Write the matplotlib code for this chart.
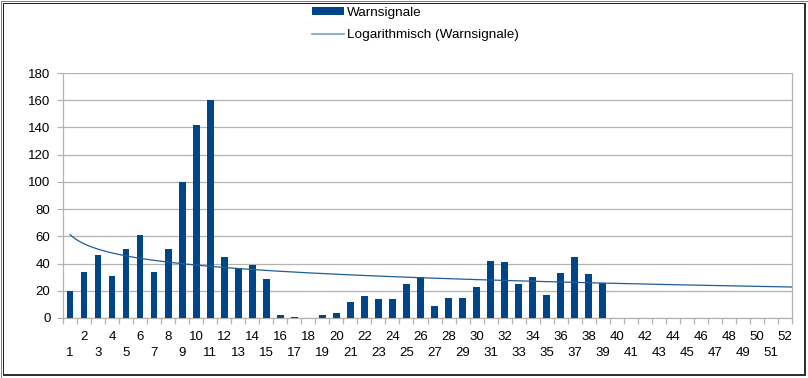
import numpy as np
import matplotlib
matplotlib.use("Agg")
import matplotlib.pyplot as plt
from matplotlib.patches import Rectangle, Patch
from matplotlib.lines import Line2D
from matplotlib.transforms import blended_transform_factory, offset_copy

plt.rcParams['font.family'] = ['Liberation Sans', 'DejaVu Sans']

weeks = list(range(1, 40))
values = [20, 34, 46, 31, 51, 61, 34, 51, 100, 142,
          160, 45, 37, 39, 29, 2, 1, 0, 2, 4,
          12, 16, 14, 14, 25, 30, 9, 15, 15, 23,
          42, 41, 25, 30, 17, 33, 45, 32, 26]
all_weeks = list(range(1, 53))
series_name = "Warnsignale"
trend_name = "Logarithmisch (Warnsignale)"
yticks = list(range(0, 181, 20))

W, H = 808, 378
DPI = 100
fig = plt.figure(figsize=(W / DPI, H / DPI), dpi=DPI)
fig.patch.set_facecolor('white')

left, right, top, bottom = 63, 792, 73, 318
ax = fig.add_axes([left / W, 1 - bottom / H, (right - left) / W, (bottom - top) / H])

bar_color = '#004586'
grid_color = '#b3b3b3'
fs = 9.5

ax.bar(weeks, values, width=0.48, color=bar_color, zorder=3)

b, a = np.polyfit(np.log(np.array(weeks, dtype=float)), np.array(values, dtype=float), 1)
xt = np.linspace(1, 52.5, 400)
ax.plot(xt, a + b * np.log(xt), color='#235d98', lw=0.9, zorder=4)

ax.set_xlim(0.5, 52.5)
ax.set_ylim(0, 180)
ax.set_yticks(yticks)
ax.set_yticklabels([str(v) for v in yticks], fontsize=fs)
ax.yaxis.grid(True, color=grid_color, lw=0.9, zorder=0)
ax.set_axisbelow(True)

ax.spines['top'].set_visible(False)
for s in ['left', 'bottom', 'right']:
    ax.spines[s].set_color(grid_color)
    ax.spines[s].set_linewidth(0.9)

ax.tick_params(axis='y', length=4, width=0.9, color=grid_color, pad=5)
boundaries = np.arange(0.5, 53.0, 1.0)
ax.set_xticks(boundaries)
ax.set_xticklabels([])
ax.tick_params(axis='x', length=4, width=0.9, color=grid_color, direction='out')

trans = blended_transform_factory(ax.transData, ax.transAxes)
for w in all_weeks:
    off = -18.5 if w % 2 == 0 else -34.7
    t = offset_copy(trans, fig=fig, x=0, y=off * 72 / DPI, units='points')
    ax.text(w, 0, str(w), transform=t, ha='center', va='center', fontsize=fs, color='#000000')

handles = [Patch(facecolor=bar_color, edgecolor='none'),
           Line2D([0], [0], color='#7a9cc7', lw=1.2)]
leg = fig.legend(handles, [series_name, trend_name], loc='upper left',
                 bbox_to_anchor=(312 / W, 1 - 7 / H), frameon=False,
                 fontsize=9.7, handlelength=2.35, handleheight=0.55,
                 handletextpad=0.25, labelspacing=0.75, borderpad=0, borderaxespad=0)

def px_rect(x0, y0, x1, y1, color, lw):
    fig.add_artist(Rectangle((x0 / W, 1 - y1 / H), (x1 - x0) / W, (y1 - y0) / H,
                             transform=fig.transFigure, fill=False, edgecolor=color,
                             linewidth=lw, zorder=10))

def px_fill(x0, y0, x1, y1, color):
    fig.add_artist(Rectangle((x0 / W, 1 - y1 / H), (x1 - x0) / W, (y1 - y0) / H,
                             transform=fig.transFigure, fill=True, facecolor=color,
                             edgecolor='none', zorder=10))

px_rect(0.5, 0.5, 807.5, 377.5, '#808080', 0.72)
px_rect(2.5, 2.5, 803.5, 373.5, '#202020', 0.72)
px_fill(804, 3, 806, 376, '#303030')
px_fill(3, 374, 806, 376, '#303030')

fig.savefig('out.png', dpi=DPI)
